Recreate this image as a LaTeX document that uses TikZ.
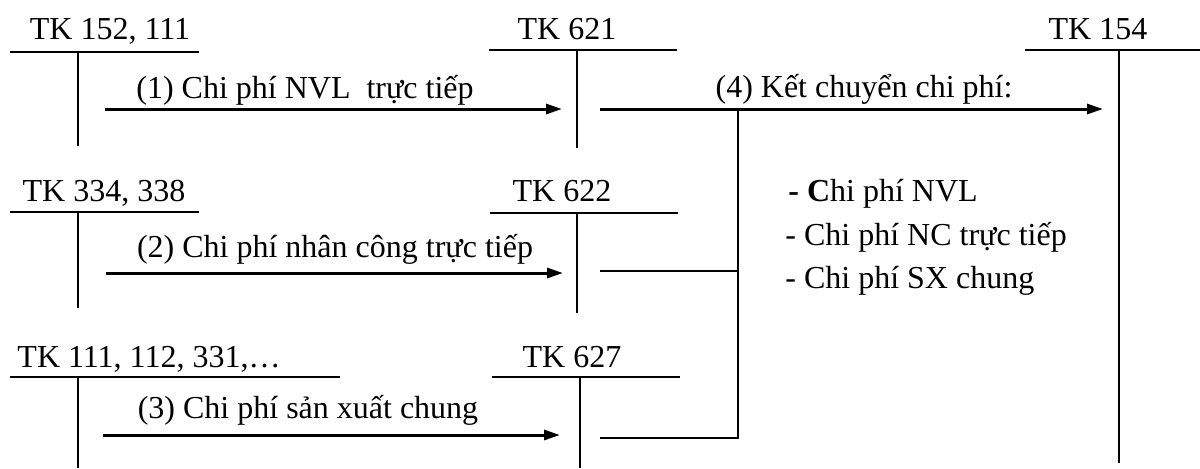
\documentclass[tikz,border=0pt]{standalone}
\usepackage{fontspec}
\setmainfont{Liberation Serif}
\usetikzlibrary{arrows.meta}
\begin{document}
\begin{tikzpicture}[x=0.5pt,y=-0.5pt,
  lbl/.style={inner sep=0pt,anchor=base,font=\fontsize{16}{19}\selectfont},
  lblw/.style={lbl,anchor=base west},
  hdr/.style={line width=1.25pt},
  side/.style={line width=1pt},
  post/.style={line width=1.5pt,-{Triangle[length=8pt,width=5pt]}},
  feed/.style={line width=1.25pt}]
\useasboundingbox (0,0) rectangle (1200,468);

% ---- T-accounts: header bar and dividing line ----
% TK 152, 111
\coordinate (h1l) at (10,52);  \coordinate (h1r) at (199,52);
\coordinate (v1t) at (78,52);  \coordinate (v1b) at (78,146);
% TK 621
\coordinate (h2l) at (489,50); \coordinate (h2r) at (677,50);
\coordinate (v2t) at (577,50); \coordinate (v2b) at (577,148);
% TK 154
\coordinate (h3l) at (1025,50); \coordinate (h3r) at (1200,50);
\coordinate (v3t) at (1119,50); \coordinate (v3b) at (1119,463);
% TK 334, 338
\coordinate (h4l) at (10,212);  \coordinate (h4r) at (199,212);
\coordinate (v4t) at (78,212);  \coordinate (v4b) at (78,308);
% TK 622
\coordinate (h5l) at (490,213); \coordinate (h5r) at (678,213);
\coordinate (v5t) at (577,213); \coordinate (v5b) at (577,313);
% TK 111, 112, 331,...
\coordinate (h6l) at (10,377);  \coordinate (h6r) at (340,377);
\coordinate (v6t) at (78,377);  \coordinate (v6b) at (78,468);
% TK 627
\coordinate (h7l) at (492,377); \coordinate (h7r) at (680,377);
\coordinate (v7t) at (580,377); \coordinate (v7b) at (580,468);

\foreach \i in {1,...,7} {
  \draw[hdr] (h\i l) -- (h\i r);
  \draw[side] (v\i t) -- (v\i b);
}

% ---- account titles ----
\node[lbl] (t1) at (110,39)  {TK 152, 111};
\node[lbl] (t2) at (567,39)  {TK 621};
\node[lbl] (t3) at (1098,39) {TK 154};
\node[lbl] (t4) at (104,201) {TK 334, 338};
\node[lbl] (t5) at (562,201) {TK 622};
\node[lbl] (t6) at (149,367) {TK 111, 112, 331,…};
\node[lbl] (t7) at (572,367) {TK 627};

% ---- postings into the cost accounts ----
\coordinate (p1s) at (105,109); \coordinate (p1e) at (562,109);
\coordinate (p2s) at (106,273); \coordinate (p2e) at (563,273);
\coordinate (p3s) at (103,435); \coordinate (p3e) at (560,435);
\draw[post] (p1s) -- (p1e);
\draw[post] (p2s) -- (p2e);
\draw[post] (p3s) -- (p3e);
\node[lbl] (l1) at (305,98)  {(1) Chi phí NVL~ trực tiếp};
\node[lbl] (l2) at (335,257) {(2) Chi phí nhân công trực tiếp};
\node[lbl] (l3) at (308,418) {(3) Chi phí sản xuất chung};

% ---- closing entries into TK 154 ----
\coordinate (k1) at (600,109);
\coordinate (k2) at (600,271);
\coordinate (k3) at (600,438);
\coordinate (j1) at (738,109);
\coordinate (j2) at (738,271);
\coordinate (j3) at (738,438);
\coordinate (ke) at (1103,109);
\draw[post] (k1) -- (ke);
\draw[feed] (k2) -- (j2);
\draw[feed] (k3) -- (j3) -- (j1);
\node[lbl] (l4) at (864,97) {(4) Kết chuyển chi phí:};

% ---- breakdown of the transferred costs ----
\node[lblw] (c1) at (788,201) {\textbf{- C}hi phí NVL};
\node[lblw] (c2) at (785,245) {- Chi phí NC trực tiếp};
\node[lblw] (c3) at (785,288) {- Chi phí SX chung};
\end{tikzpicture}
\end{document}
